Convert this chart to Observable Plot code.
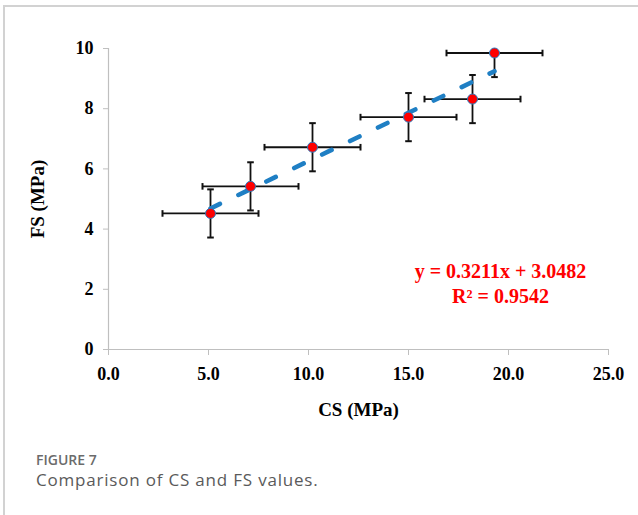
<!DOCTYPE html>
<html>
<head>
<meta charset="utf-8">
<script src="https://cdn.jsdelivr.net/npm/d3@7"></script>
<script src="https://cdn.jsdelivr.net/npm/@observablehq/plot@0.6"></script>
<style>
  html, body { margin: 0; padding: 0; background: #fff; }
  #page { position: relative; width: 638px; height: 515px; overflow: hidden; }
  #frame { position: absolute; left: 3px; top: 5px; right: -5px; bottom: -5px;
           border-left: 2px solid #d2d2d2; border-top: 2px solid #d2d2d2; }
  #chart { position: absolute; left: 0; top: 0; }
  #figlabel { position: absolute; left: 36px; top: 453px; line-height: 14px; font-family: "Open Sans", sans-serif;
              font-weight: 600; font-size: 14px; color: #6b6b6b; }
  #figcap { position: absolute; left: 36px; top: 471px; line-height: 17px; font-family: "Open Sans", sans-serif;
            font-weight: 400; font-size: 17px; letter-spacing: 0.8px; color: #5a5a5a; white-space: nowrap; }
</style>
</head>
<body>
<div id="page">
  <div id="frame"></div>
  <div id="chart"></div>
  <div id="figlabel">FIGURE 7</div>
  <div id="figcap">Comparison of CS and FS values.</div>
</div>
<script>
// Data
const cs = [5.1, 7.1, 10.2, 15.0, 18.2, 19.3];     // compressive strength (MPa)
const fs = [4.52, 5.42, 6.72, 7.72, 8.32, 9.85];   // flexural strength (MPa)
const csErr = [2.4, 2.4, 2.4, 2.4, 2.4, 2.4];
const fsErr = [0.8, 0.8, 0.8, 0.8, 0.8, 0.8];
const slope = 0.3211;
const intercept = 3.0482;
const eqLabels = ["y = 0.3211x + 3.0482", "R² = 0.9542"];
const xTicks = [0, 5, 10, 15, 20, 25];
const yTicks = [0, 2, 4, 6, 8, 10];

const pts = cs.map((x, i) => ({x, y: fs[i], ex: csErr[i], ey: fsErr[i]}));
const xMin = d3.min(cs), xMax = d3.max(cs);
const trend = [xMin, xMax].map(x => ({x, y: slope * x + intercept}));

const vCap = {draw(ctx, size) { const r = Math.sqrt(size / Math.PI); ctx.moveTo(0, -r); ctx.lineTo(0, r); }};
const hCap = {draw(ctx, size) { const r = Math.sqrt(size / Math.PI); ctx.moveTo(-r, 0); ctx.lineTo(r, 0); }};

const serif = "'Liberation Serif', 'Times New Roman', serif";
const axisGray = "#bfbfbf";

const chart = Plot.plot({
  width: 638,
  height: 440,
  marginLeft: 108,
  marginRight: 30,
  marginTop: 48,
  marginBottom: 91,
  style: {fontFamily: serif, background: "transparent", overflow: "visible"},
  x: {domain: [0, 25]},
  y: {domain: [0, 10]},
  marks: [
    // axes
    Plot.ruleY([0], {stroke: axisGray, strokeWidth: 1.2}),
    Plot.ruleX([0], {stroke: axisGray, strokeWidth: 1.2}),
    Plot.axisX({ticks: xTicks, tickFormat: d3.format(".1f"), tickSize: 6, tickPadding: 12,
      stroke: axisGray, fill: "#000", fontSize: 18, fontWeight: "bold", label: null}),
    Plot.axisY({ticks: yTicks, tickFormat: d3.format("d"), tickSize: 5, tickPadding: 10,
      stroke: axisGray, fill: "#000", fontSize: 18, fontWeight: "bold", label: null}),
    // axis titles
    Plot.text(["CS (MPa)"], {frameAnchor: "bottom", dy: 66, fontSize: 19, fontWeight: "bold", fill: "#000", textAnchor: "middle"}),
    Plot.text(["FS (MPa)"], {frameAnchor: "left", dx: -71, rotate: -90, fontSize: 19, fontWeight: "bold", fill: "#000", textAnchor: "middle"}),
    // error bars
    Plot.link(pts, {x1: d => d.x - d.ex, x2: d => d.x + d.ex, y1: "y", y2: "y", stroke: "#111", strokeWidth: 1.8, clip: true}),
    Plot.link(pts, {x1: "x", x2: "x", y1: d => d.y - d.ey, y2: d => d.y + d.ey, stroke: "#111", strokeWidth: 1.8, clip: true}),
    Plot.dot(pts, {x: d => d.x - d.ex, y: "y", symbol: vCap, r: 3.3, stroke: "#111", strokeWidth: 2, fill: "none", clip: true}),
    Plot.dot(pts, {x: d => d.x + d.ex, y: "y", symbol: vCap, r: 3.3, stroke: "#111", strokeWidth: 2, fill: "none", clip: true}),
    Plot.dot(pts, {x: "x", y: d => d.y - d.ey, symbol: hCap, r: 3.3, stroke: "#111", strokeWidth: 2, fill: "none", clip: true}),
    Plot.dot(pts, {x: "x", y: d => d.y + d.ey, symbol: hCap, r: 3.3, stroke: "#111", strokeWidth: 2, fill: "none", clip: true}),
    // trend line
    Plot.line(trend, {x: "x", y: "y", stroke: "#1f7fc4", strokeWidth: 4.6, strokeDasharray: "10.5,20.5", strokeLinecap: "round"}),
    // markers
    Plot.dot(pts, {x: "x", y: "y", r: 5, fill: "#ff0000", stroke: "#2a7cc0", strokeWidth: 1}),
    // equation
    Plot.text([eqLabels[0]], {frameAnchor: "top-right", dx: -108, dy: 215, fontSize: 20, fontWeight: "bold", fill: "#ff0000", textAnchor: "middle"}),
    Plot.text([eqLabels[1]], {frameAnchor: "top-right", dx: -108, dy: 240, fontSize: 20, fontWeight: "bold", fill: "#ff0000", textAnchor: "middle"})
  ]
});
document.getElementById("chart").appendChild(chart);
</script>
</body>
</html>
